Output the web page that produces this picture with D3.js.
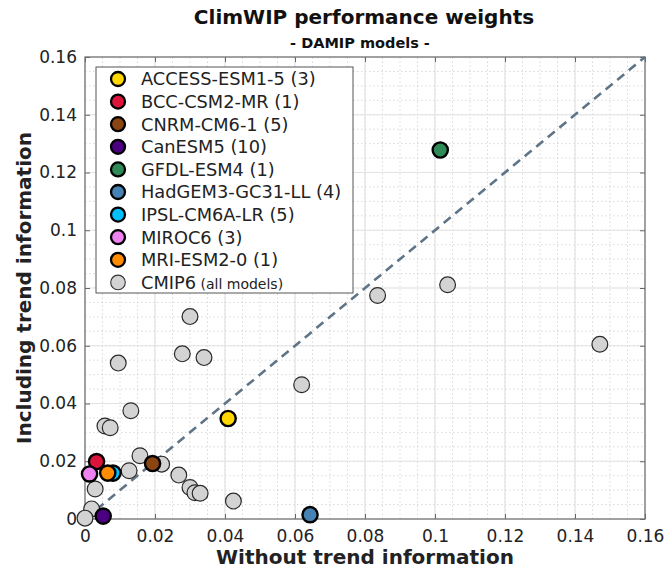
<!DOCTYPE html>
<html>
<head>
	<meta charset="utf-8">
	<title>ClimWIP performance weights</title>
	<script src="https://d3js.org/d3.v7.min.js"></script>
	<style>
		body { margin: 0; background: #fff; }
		text { font-family: "DejaVu Sans", sans-serif; }
	</style>
</head>
<body>
	<div class="chart"></div>

	<script type="text/javascript">
		const width = 667
		const height = 570
		const margin = { top: 57, right: 22, bottom: 51, left: 85 }

		// CMIP6 (all models), grey points
		const cmipX = [0.0836, 0.1036, 0.1471, 0.0619, 0.0300, 0.0278, 0.0340, 0.0095, 0.0131, 0.0057, 0.0072,
			0.0126, 0.0157, 0.0219, 0.0268, 0.0300, 0.0314, 0.0329, 0.0424, 0.0029, 0.0019, 0.0000]
		const cmipY = [0.0774, 0.0811, 0.0605, 0.0465, 0.0701, 0.0572, 0.0559, 0.0540, 0.0375, 0.0322, 0.0316,
			0.0167, 0.0219, 0.0190, 0.0152, 0.0109, 0.0091, 0.0089, 0.0062, 0.0104, 0.0035, 0.0003]

		// DAMIP models
		const models = ['ACCESS-ESM1-5 (3)', 'BCC-CSM2-MR (1)', 'CNRM-CM6-1 (5)', 'CanESM5 (10)', 'GFDL-ESM4 (1)',
			'HadGEM3-GC31-LL (4)', 'IPSL-CM6A-LR (5)', 'MIROC6 (3)', 'MRI-ESM2-0 (1)']
		const modelColors = ['#FFD700', '#DC143C', '#8B4513', '#4B0082', '#2E8B57', '#4682B4', '#00BFFF', '#EE82EE', '#FF8C00']
		const modelX = [0.0409, 0.0033, 0.0193, 0.0052, 0.1015, 0.0643, 0.0080, 0.0013, 0.0065]
		const modelY = [0.0348, 0.0199, 0.0192, 0.0010, 0.1278, 0.0015, 0.0159, 0.0156, 0.0159]

		const tickValues = [0, 0.02, 0.04, 0.06, 0.08, 0.1, 0.12, 0.14, 0.16]
		const minorValues = d3.range(0, 0.1601, 0.005)

		const svg = d3.select('.chart').append('svg')
			.attr('width', width)
			.attr('height', height)

		const x = d3.scaleLinear([0, 0.16], [margin.left, width - margin.right])
		const y = d3.scaleLinear([0, 0.16], [height - margin.bottom, margin.top])

		// 网格
		const grid = svg.append('g')
		grid.selectAll('.minx').data(minorValues).join('line')
			.attr('x1', d => x(d)).attr('x2', d => x(d))
			.attr('y1', y(0)).attr('y2', y(0.16))
			.attr('stroke', '#cfcfcf').attr('stroke-width', 0.8).attr('stroke-dasharray', '1.5,2.5')
		grid.selectAll('.miny').data(minorValues).join('line')
			.attr('y1', d => y(d)).attr('y2', d => y(d))
			.attr('x1', x(0)).attr('x2', x(0.16))
			.attr('stroke', '#cfcfcf').attr('stroke-width', 0.8).attr('stroke-dasharray', '1.5,2.5')
		grid.selectAll('.majx').data(tickValues).join('line')
			.attr('x1', d => x(d)).attr('x2', d => x(d))
			.attr('y1', y(0)).attr('y2', y(0.16))
			.attr('stroke', '#e3e3e3').attr('stroke-width', 1.2)
		grid.selectAll('.majy').data(tickValues).join('line')
			.attr('y1', d => y(d)).attr('y2', d => y(d))
			.attr('x1', x(0)).attr('x2', x(0.16))
			.attr('stroke', '#e3e3e3').attr('stroke-width', 1.2)

		// 坐标轴（刻度朝内）
		const fmt = d => d === 0 ? '0' : d3.format('~g')(d)
		const styleAxis = g => {
			g.select('.domain').remove()
			g.selectAll('.tick line').attr('stroke', '#666').attr('stroke-width', 1)
			g.selectAll('.tick text').attr('fill', '#222').style('font-size', '17px')
				.style('font-family', '"DejaVu Sans", sans-serif')
		}
		svg.append('g')
			.attr('transform', `translate(0, ${y(0)})`)
			.call(d3.axisBottom(x).tickValues(tickValues).tickFormat(fmt).tickSizeInner(-5).tickSizeOuter(0).tickPadding(11))
			.call(styleAxis)
		svg.append('g')
			.attr('transform', `translate(${x(0)}, 0)`)
			.call(d3.axisLeft(y).tickValues(tickValues).tickFormat(fmt).tickSizeInner(-5).tickSizeOuter(0).tickPadding(8))
			.call(styleAxis)
		svg.append('g')
			.attr('transform', `translate(0, ${y(0.16)})`)
			.call(d3.axisTop(x).tickValues(tickValues).tickFormat('').tickSizeInner(-5).tickSizeOuter(0))
			.call(styleAxis)
		svg.append('g')
			.attr('transform', `translate(${x(0.16)}, 0)`)
			.call(d3.axisRight(y).tickValues(tickValues).tickFormat('').tickSizeInner(-5).tickSizeOuter(0))
			.call(styleAxis)

		svg.append('rect')
			.attr('x', x(0)).attr('y', y(0.16))
			.attr('width', x(0.16) - x(0)).attr('height', y(0) - y(0.16))
			.attr('fill', 'none').attr('stroke', '#6e6e6e').attr('stroke-width', 1.2)

		// 1:1 虚线
		svg.append('line')
			.attr('x1', x(0)).attr('y1', y(0))
			.attr('x2', x(0.16)).attr('y2', y(0.16))
			.attr('stroke', '#5f7587').attr('stroke-width', 2.6).attr('stroke-dasharray', '9,6')

		// CMIP6 点
		svg.append('g').selectAll('circle')
			.data(d3.range(cmipX.length))
			.join('circle')
			.attr('cx', i => x(cmipX[i]))
			.attr('cy', i => y(cmipY[i]))
			.attr('r', 7.9)
			.attr('fill', '#d3d3d3')
			.attr('stroke', '#2a2a2a')
			.attr('stroke-width', 1.2)

		// DAMIP 模型点
		svg.append('g').selectAll('circle')
			.data(d3.range(models.length))
			.join('circle')
			.attr('cx', i => x(modelX[i]))
			.attr('cy', i => y(modelY[i]))
			.attr('r', 7.6)
			.attr('fill', i => modelColors[i])
			.attr('stroke', '#000')
			.attr('stroke-width', 2.4)

		// 图例
		const legend = svg.append('g')
		legend.append('rect')
			.attr('x', 96).attr('y', 67).attr('width', 257).attr('height', 226)
			.attr('fill', '#fff').attr('stroke', '#555').attr('stroke-width', 1)
		const rowY = i => 79 + i * 22.6
		const entries = models.map((m, i) => ({ label: m, color: modelColors[i], grey: false }))
		entries.push({ label: 'CMIP6', color: '#d3d3d3', grey: true })
		entries.forEach((e, i) => {
			legend.append('circle')
				.attr('cx', 118).attr('cy', rowY(i)).attr('r', e.grey ? 7.3 : 7)
				.attr('fill', e.color)
				.attr('stroke', e.grey ? '#333' : '#000')
				.attr('stroke-width', e.grey ? 1.1 : 2.3)
			const t = legend.append('text')
				.attr('x', 141).attr('y', rowY(i)).attr('dy', '0.36em')
				.attr('fill', '#222').style('font-size', '17.8px')
				.text(e.label)
			if (e.grey) {
				t.append('tspan').style('font-size', '14px').text(' (all models)')
			}
		})

		// 标题
		svg.append('text')
			.attr('x', 364).attr('y', 24)
			.attr('text-anchor', 'middle')
			.style('font-size', '20px').style('font-weight', 'bold').attr('fill', '#111')
			.text('ClimWIP performance weights')
		svg.append('text')
			.attr('x', 360).attr('y', 48)
			.attr('text-anchor', 'middle')
			.style('font-size', '14.5px').style('font-weight', 'bold').attr('fill', '#111')
			.text('- DAMIP models -')

		svg.append('text')
			.attr('x', 365).attr('y', 564)
			.attr('text-anchor', 'middle')
			.style('font-size', '20px').style('font-weight', 'bold').attr('fill', '#222')
			.text('Without trend information')
		svg.append('text')
			.attr('transform', `translate(24, ${(y(0) + y(0.16)) / 2}) rotate(-90)`)
			.attr('text-anchor', 'middle').attr('dy', '0.36em')
			.style('font-size', '20px').style('font-weight', 'bold').attr('fill', '#222')
			.text('Including trend information')
	</script>
</body>
</html>
